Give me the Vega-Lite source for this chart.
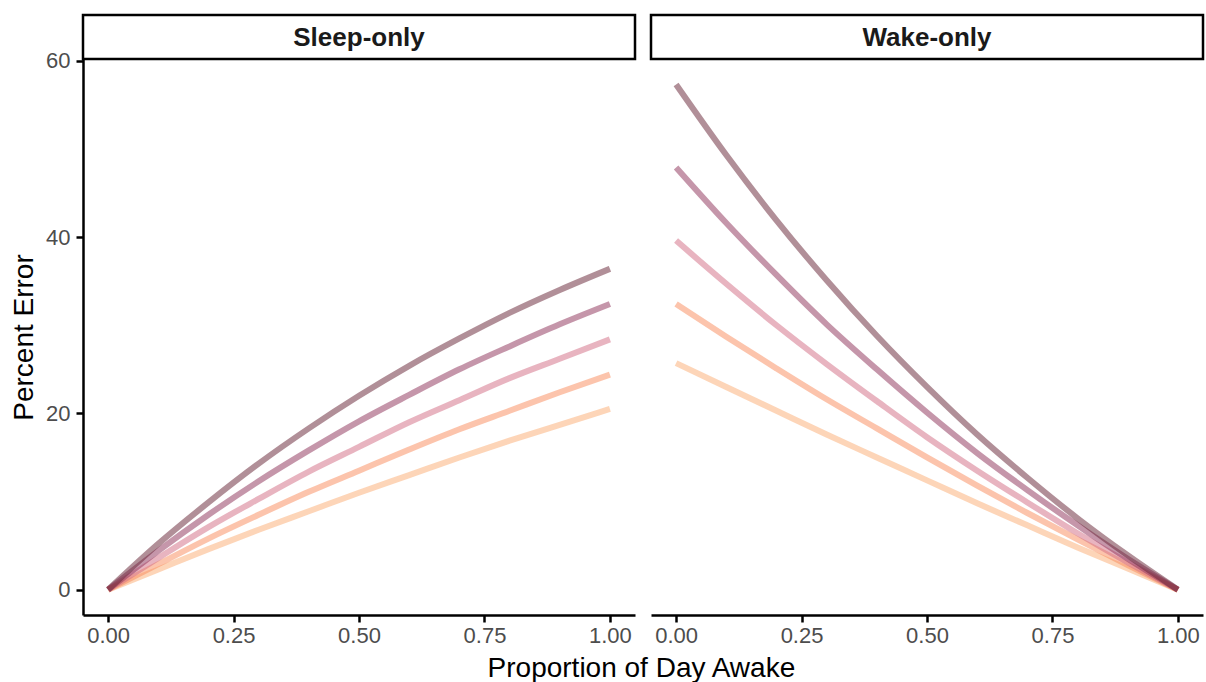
{
  "$schema": "https://vega.github.io/schema/vega-lite/v6.json",
  "padding": {"left": 10, "top": 13, "right": 2, "bottom": 0},
  "background": "white",
  "config": {"font": "Liberation Sans", "view": {"stroke": null}},
  "title": {"text": "Proportion of Day Awake", "orient": "bottom", "anchor": "middle", "fontSize": 28, "fontWeight": "normal", "color": "black", "offset": 9, "dx": 34, "font": "Liberation Sans"},
  "datasets": {
    "curves": [
      {"panel": "Sleep-only", "series": "s5", "prop": 0.0, "error": 0.0},
      {"panel": "Sleep-only", "series": "s5", "prop": 0.1, "error": 2.3},
      {"panel": "Sleep-only", "series": "s5", "prop": 0.2, "error": 4.6},
      {"panel": "Sleep-only", "series": "s5", "prop": 0.3, "error": 6.8},
      {"panel": "Sleep-only", "series": "s5", "prop": 0.4, "error": 8.9},
      {"panel": "Sleep-only", "series": "s5", "prop": 0.5, "error": 11.0},
      {"panel": "Sleep-only", "series": "s5", "prop": 0.6, "error": 13.0},
      {"panel": "Sleep-only", "series": "s5", "prop": 0.7, "error": 15.0},
      {"panel": "Sleep-only", "series": "s5", "prop": 0.8, "error": 16.9},
      {"panel": "Sleep-only", "series": "s5", "prop": 0.9, "error": 18.7},
      {"panel": "Sleep-only", "series": "s5", "prop": 1.0, "error": 20.5},
      {"panel": "Sleep-only", "series": "s4", "prop": 0.0, "error": 0.0},
      {"panel": "Sleep-only", "series": "s4", "prop": 0.1, "error": 2.9},
      {"panel": "Sleep-only", "series": "s4", "prop": 0.2, "error": 5.8},
      {"panel": "Sleep-only", "series": "s4", "prop": 0.3, "error": 8.5},
      {"panel": "Sleep-only", "series": "s4", "prop": 0.4, "error": 11.1},
      {"panel": "Sleep-only", "series": "s4", "prop": 0.5, "error": 13.5},
      {"panel": "Sleep-only", "series": "s4", "prop": 0.6, "error": 15.9},
      {"panel": "Sleep-only", "series": "s4", "prop": 0.7, "error": 18.2},
      {"panel": "Sleep-only", "series": "s4", "prop": 0.8, "error": 20.3},
      {"panel": "Sleep-only", "series": "s4", "prop": 0.9, "error": 22.4},
      {"panel": "Sleep-only", "series": "s4", "prop": 1.0, "error": 24.4},
      {"panel": "Sleep-only", "series": "s3", "prop": 0.0, "error": 0.0},
      {"panel": "Sleep-only", "series": "s3", "prop": 0.1, "error": 3.6},
      {"panel": "Sleep-only", "series": "s3", "prop": 0.2, "error": 7.1},
      {"panel": "Sleep-only", "series": "s3", "prop": 0.3, "error": 10.3},
      {"panel": "Sleep-only", "series": "s3", "prop": 0.4, "error": 13.4},
      {"panel": "Sleep-only", "series": "s3", "prop": 0.5, "error": 16.2},
      {"panel": "Sleep-only", "series": "s3", "prop": 0.6, "error": 19.0},
      {"panel": "Sleep-only", "series": "s3", "prop": 0.7, "error": 21.5},
      {"panel": "Sleep-only", "series": "s3", "prop": 0.8, "error": 24.0},
      {"panel": "Sleep-only", "series": "s3", "prop": 0.9, "error": 26.2},
      {"panel": "Sleep-only", "series": "s3", "prop": 1.0, "error": 28.4},
      {"panel": "Sleep-only", "series": "s2", "prop": 0.0, "error": 0.0},
      {"panel": "Sleep-only", "series": "s2", "prop": 0.1, "error": 4.4},
      {"panel": "Sleep-only", "series": "s2", "prop": 0.2, "error": 8.5},
      {"panel": "Sleep-only", "series": "s2", "prop": 0.3, "error": 12.3},
      {"panel": "Sleep-only", "series": "s2", "prop": 0.4, "error": 15.8},
      {"panel": "Sleep-only", "series": "s2", "prop": 0.5, "error": 19.1},
      {"panel": "Sleep-only", "series": "s2", "prop": 0.6, "error": 22.1},
      {"panel": "Sleep-only", "series": "s2", "prop": 0.7, "error": 25.0},
      {"panel": "Sleep-only", "series": "s2", "prop": 0.8, "error": 27.6},
      {"panel": "Sleep-only", "series": "s2", "prop": 0.9, "error": 30.1},
      {"panel": "Sleep-only", "series": "s2", "prop": 1.0, "error": 32.4},
      {"panel": "Sleep-only", "series": "s1", "prop": 0.0, "error": 0.0},
      {"panel": "Sleep-only", "series": "s1", "prop": 0.1, "error": 5.2},
      {"panel": "Sleep-only", "series": "s1", "prop": 0.2, "error": 9.9},
      {"panel": "Sleep-only", "series": "s1", "prop": 0.3, "error": 14.3},
      {"panel": "Sleep-only", "series": "s1", "prop": 0.4, "error": 18.3},
      {"panel": "Sleep-only", "series": "s1", "prop": 0.5, "error": 22.0},
      {"panel": "Sleep-only", "series": "s1", "prop": 0.6, "error": 25.4},
      {"panel": "Sleep-only", "series": "s1", "prop": 0.7, "error": 28.5},
      {"panel": "Sleep-only", "series": "s1", "prop": 0.8, "error": 31.4},
      {"panel": "Sleep-only", "series": "s1", "prop": 0.9, "error": 34.0},
      {"panel": "Sleep-only", "series": "s1", "prop": 1.0, "error": 36.4},
      {"panel": "Wake-only", "series": "s5", "prop": 0.0, "error": 25.7},
      {"panel": "Wake-only", "series": "s5", "prop": 0.1, "error": 23.0},
      {"panel": "Wake-only", "series": "s5", "prop": 0.2, "error": 20.3},
      {"panel": "Wake-only", "series": "s5", "prop": 0.3, "error": 17.6},
      {"panel": "Wake-only", "series": "s5", "prop": 0.4, "error": 15.0},
      {"panel": "Wake-only", "series": "s5", "prop": 0.5, "error": 12.4},
      {"panel": "Wake-only", "series": "s5", "prop": 0.6, "error": 9.8},
      {"panel": "Wake-only", "series": "s5", "prop": 0.7, "error": 7.3},
      {"panel": "Wake-only", "series": "s5", "prop": 0.8, "error": 4.8},
      {"panel": "Wake-only", "series": "s5", "prop": 0.9, "error": 2.4},
      {"panel": "Wake-only", "series": "s5", "prop": 1.0, "error": 0.0},
      {"panel": "Wake-only", "series": "s4", "prop": 0.0, "error": 32.4},
      {"panel": "Wake-only", "series": "s4", "prop": 0.1, "error": 28.7},
      {"panel": "Wake-only", "series": "s4", "prop": 0.2, "error": 25.1},
      {"panel": "Wake-only", "series": "s4", "prop": 0.3, "error": 21.6},
      {"panel": "Wake-only", "series": "s4", "prop": 0.4, "error": 18.3},
      {"panel": "Wake-only", "series": "s4", "prop": 0.5, "error": 15.0},
      {"panel": "Wake-only", "series": "s4", "prop": 0.6, "error": 11.8},
      {"panel": "Wake-only", "series": "s4", "prop": 0.7, "error": 8.7},
      {"panel": "Wake-only", "series": "s4", "prop": 0.8, "error": 5.7},
      {"panel": "Wake-only", "series": "s4", "prop": 0.9, "error": 2.8},
      {"panel": "Wake-only", "series": "s4", "prop": 1.0, "error": 0.0},
      {"panel": "Wake-only", "series": "s3", "prop": 0.0, "error": 39.6},
      {"panel": "Wake-only", "series": "s3", "prop": 0.1, "error": 34.7},
      {"panel": "Wake-only", "series": "s3", "prop": 0.2, "error": 30.0},
      {"panel": "Wake-only", "series": "s3", "prop": 0.3, "error": 25.6},
      {"panel": "Wake-only", "series": "s3", "prop": 0.4, "error": 21.4},
      {"panel": "Wake-only", "series": "s3", "prop": 0.5, "error": 17.3},
      {"panel": "Wake-only", "series": "s3", "prop": 0.6, "error": 13.5},
      {"panel": "Wake-only", "series": "s3", "prop": 0.7, "error": 9.9},
      {"panel": "Wake-only", "series": "s3", "prop": 0.8, "error": 6.4},
      {"panel": "Wake-only", "series": "s3", "prop": 0.9, "error": 3.1},
      {"panel": "Wake-only", "series": "s3", "prop": 1.0, "error": 0.0},
      {"panel": "Wake-only", "series": "s2", "prop": 0.0, "error": 47.9},
      {"panel": "Wake-only", "series": "s2", "prop": 0.1, "error": 41.6},
      {"panel": "Wake-only", "series": "s2", "prop": 0.2, "error": 35.7},
      {"panel": "Wake-only", "series": "s2", "prop": 0.3, "error": 30.1},
      {"panel": "Wake-only", "series": "s2", "prop": 0.4, "error": 25.0},
      {"panel": "Wake-only", "series": "s2", "prop": 0.5, "error": 20.1},
      {"panel": "Wake-only", "series": "s2", "prop": 0.6, "error": 15.5},
      {"panel": "Wake-only", "series": "s2", "prop": 0.7, "error": 11.3},
      {"panel": "Wake-only", "series": "s2", "prop": 0.8, "error": 7.3},
      {"panel": "Wake-only", "series": "s2", "prop": 0.9, "error": 3.5},
      {"panel": "Wake-only", "series": "s2", "prop": 1.0, "error": 0.0},
      {"panel": "Wake-only", "series": "s1", "prop": 0.0, "error": 57.3},
      {"panel": "Wake-only", "series": "s1", "prop": 0.1, "error": 49.3},
      {"panel": "Wake-only", "series": "s1", "prop": 0.2, "error": 41.9},
      {"panel": "Wake-only", "series": "s1", "prop": 0.3, "error": 35.1},
      {"panel": "Wake-only", "series": "s1", "prop": 0.4, "error": 28.8},
      {"panel": "Wake-only", "series": "s1", "prop": 0.5, "error": 23.0},
      {"panel": "Wake-only", "series": "s1", "prop": 0.6, "error": 17.6},
      {"panel": "Wake-only", "series": "s1", "prop": 0.7, "error": 12.7},
      {"panel": "Wake-only", "series": "s1", "prop": 0.8, "error": 8.1},
      {"panel": "Wake-only", "series": "s1", "prop": 0.9, "error": 3.9},
      {"panel": "Wake-only", "series": "s1", "prop": 1.0, "error": 0.0}
    ]
  },
  "spacing": 12,
  "hconcat": [
    {
      "spacing": 0,
      "bounds": "flush",
      "vconcat": [
        {
          "width": 552,
          "height": 44,
          "data": {"values": [{"label": "Sleep-only"}]},
          "view": {"stroke": "black", "strokeWidth": 2.5, "fill": "white"},
          "mark": {"type": "text", "fontSize": 26, "fontWeight": "bold", "color": "#1a1a1a", "baseline": "middle", "align": "center", "dy": 1},
          "encoding": {"text": {"field": "label", "type": "nominal"}}
        },
        {
          "width": 552,
          "height": 556,
          "data": {"name": "curves"},
          "transform": [{"filter": "datum.panel === 'Sleep-only'"}],
          "mark": {"type": "line", "strokeWidth": 6, "opacity": 0.5, "interpolate": "monotone", "strokeCap": "butt"},
          "encoding": {
            "x": {"field": "prop", "type": "quantitative", "scale": {"domain": [-0.05, 1.05], "nice": false, "zero": false},
              "axis": {"values": [0, 0.25, 0.5, 0.75, 1], "format": ".2f", "title": null, "grid": false, "domainColor": "black", "domainWidth": 2.5, "tickColor": "black", "tickWidth": 2.5, "tickSize": 7, "labelFontSize": 22, "labelColor": "#4d4d4d", "labelPadding": 3}},
            "y": {"field": "error", "type": "quantitative", "scale": {"domain": [-2.87, 60.2], "nice": false, "zero": false},
              "axis": {"values": [0, 20, 40, 60], "title": "Percent Error", "titleFontSize": 28, "titleFontWeight": "normal", "titleColor": "black", "titlePadding": 7, "grid": false, "domainColor": "black", "domainWidth": 2.5, "tickColor": "black", "tickWidth": 2.5, "tickSize": 7, "labelFontSize": 22, "labelColor": "#4d4d4d", "labelPadding": 6}},
            "color": {"field": "series", "type": "nominal", "scale": {"domain": ["s1", "s2", "s3", "s4", "s5"], "range": ["#642032", "#8b2d55", "#d16981", "#f98959", "#fbab71"]}, "legend": null}
          }
        }
      ]
    },
    {
      "spacing": 0,
      "bounds": "flush",
      "vconcat": [
        {
          "width": 552,
          "height": 44,
          "data": {"values": [{"label": "Wake-only"}]},
          "view": {"stroke": "black", "strokeWidth": 2.5, "fill": "white"},
          "mark": {"type": "text", "fontSize": 26, "fontWeight": "bold", "color": "#1a1a1a", "baseline": "middle", "align": "center", "dy": 1},
          "encoding": {"text": {"field": "label", "type": "nominal"}}
        },
        {
          "width": 552,
          "height": 556,
          "data": {"name": "curves"},
          "transform": [{"filter": "datum.panel === 'Wake-only'"}],
          "mark": {"type": "line", "strokeWidth": 6, "opacity": 0.5, "interpolate": "monotone", "strokeCap": "butt"},
          "encoding": {
            "x": {"field": "prop", "type": "quantitative", "scale": {"domain": [-0.05, 1.05], "nice": false, "zero": false},
              "axis": {"values": [0, 0.25, 0.5, 0.75, 1], "format": ".2f", "title": null, "grid": false, "domainColor": "black", "domainWidth": 2.5, "tickColor": "black", "tickWidth": 2.5, "tickSize": 7, "labelFontSize": 22, "labelColor": "#4d4d4d", "labelPadding": 3}},
            "y": {"field": "error", "type": "quantitative", "scale": {"domain": [-2.87, 60.2], "nice": false, "zero": false}, "axis": null},
            "color": {"field": "series", "type": "nominal", "scale": {"domain": ["s1", "s2", "s3", "s4", "s5"], "range": ["#642032", "#8b2d55", "#d16981", "#f98959", "#fbab71"]}, "legend": null}
          }
        }
      ]
    }
  ]
}
